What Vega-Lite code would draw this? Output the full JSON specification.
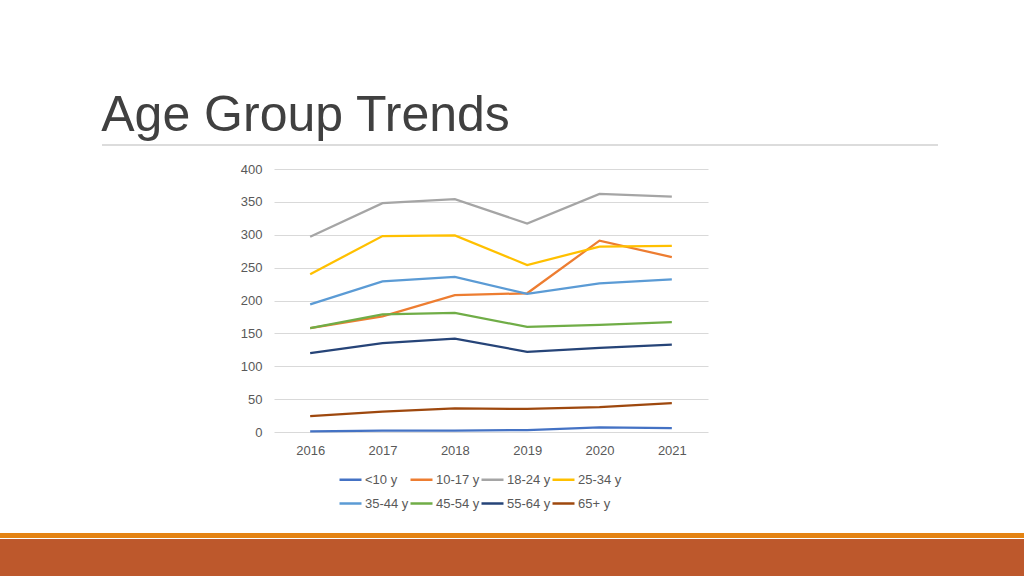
{
  "$schema": "https://vega.github.io/schema/vega-lite/v6.json",
  "background": "white",
  "padding": {"top": 91, "left": 0, "right": 0, "bottom": 0},
  "config": {
    "view": {"stroke": null},
    "concat": {"spacing": 0},
    "axis": {"labelFont": "Liberation Sans", "labelFontSize": 13, "labelColor": "#595959"},
    "legend": {"labelFont": "Liberation Sans", "labelFontSize": 13, "labelColor": "#595959", "layout": {"bottom": {"anchor": "middle"}}}
  },
  "spacing": 17,
  "vconcat": [
    {
      "spacing": 0,
      "hconcat": [
        {"width": 101, "height": 1, "data": {"values": []}, "mark": "point", "encoding": {}},
        {
          "width": 836,
          "height": 1,
          "title": {"text": "Age Group Trends", "anchor": "start", "fontSize": 50, "font": "Liberation Sans", "fontWeight": "normal", "color": "#404040", "offset": 3},
          "data": {"values": [{}]},
          "mark": {"type": "rule", "color": "#D0D0D0", "strokeWidth": 1.5},
          "encoding": {
            "x": {"datum": 0, "type": "quantitative", "scale": {"domain": [0, 1]}, "axis": null},
            "x2": {"datum": 1},
            "y": {"datum": 0, "type": "quantitative", "scale": {"domain": [0, 1]}, "axis": null}
          }
        }
      ]
    },
    {
      "spacing": 0,
      "resolve": {"scale": {"color": "independent"}, "legend": {"color": "independent"}},
      "hconcat": [
        {"width": 240, "height": 1, "data": {"values": []}, "mark": "point", "encoding": {}},
        {
          "width": 434,
          "height": 263,
          "data": {"values": [
            {"year": "2016", "group": "<10 y", "value": 1},
            {"year": "2017", "group": "<10 y", "value": 2},
            {"year": "2018", "group": "<10 y", "value": 2},
            {"year": "2019", "group": "<10 y", "value": 3},
            {"year": "2020", "group": "<10 y", "value": 7},
            {"year": "2021", "group": "<10 y", "value": 6},
            {"year": "2016", "group": "10-17 y", "value": 158},
            {"year": "2017", "group": "10-17 y", "value": 176},
            {"year": "2018", "group": "10-17 y", "value": 208},
            {"year": "2019", "group": "10-17 y", "value": 211},
            {"year": "2020", "group": "10-17 y", "value": 291},
            {"year": "2021", "group": "10-17 y", "value": 266},
            {"year": "2016", "group": "18-24 y", "value": 297},
            {"year": "2017", "group": "18-24 y", "value": 348},
            {"year": "2018", "group": "18-24 y", "value": 354},
            {"year": "2019", "group": "18-24 y", "value": 317},
            {"year": "2020", "group": "18-24 y", "value": 362},
            {"year": "2021", "group": "18-24 y", "value": 358},
            {"year": "2016", "group": "25-34 y", "value": 240},
            {"year": "2017", "group": "25-34 y", "value": 298},
            {"year": "2018", "group": "25-34 y", "value": 299},
            {"year": "2019", "group": "25-34 y", "value": 254},
            {"year": "2020", "group": "25-34 y", "value": 282},
            {"year": "2021", "group": "25-34 y", "value": 283},
            {"year": "2016", "group": "35-44 y", "value": 194},
            {"year": "2017", "group": "35-44 y", "value": 229},
            {"year": "2018", "group": "35-44 y", "value": 236},
            {"year": "2019", "group": "35-44 y", "value": 210},
            {"year": "2020", "group": "35-44 y", "value": 226},
            {"year": "2021", "group": "35-44 y", "value": 232},
            {"year": "2016", "group": "45-54 y", "value": 158},
            {"year": "2017", "group": "45-54 y", "value": 179},
            {"year": "2018", "group": "45-54 y", "value": 181},
            {"year": "2019", "group": "45-54 y", "value": 160},
            {"year": "2020", "group": "45-54 y", "value": 163},
            {"year": "2021", "group": "45-54 y", "value": 167},
            {"year": "2016", "group": "55-64 y", "value": 120},
            {"year": "2017", "group": "55-64 y", "value": 135},
            {"year": "2018", "group": "55-64 y", "value": 142},
            {"year": "2019", "group": "55-64 y", "value": 122},
            {"year": "2020", "group": "55-64 y", "value": 128},
            {"year": "2021", "group": "55-64 y", "value": 133},
            {"year": "2016", "group": "65+ y", "value": 24},
            {"year": "2017", "group": "65+ y", "value": 31},
            {"year": "2018", "group": "65+ y", "value": 36},
            {"year": "2019", "group": "65+ y", "value": 35},
            {"year": "2020", "group": "65+ y", "value": 38},
            {"year": "2021", "group": "65+ y", "value": 44}
          ]},
          "mark": {"type": "line", "strokeWidth": 2.25},
          "encoding": {
            "x": {"field": "year", "type": "ordinal", "scale": {"type": "point", "padding": 0.5},
                  "axis": {"title": null, "labelAngle": 0, "domain": false, "ticks": false, "grid": false, "labelPadding": 12}},
            "y": {"field": "value", "type": "quantitative", "scale": {"domain": [0, 400]},
                  "axis": {"title": null, "values": [0, 50, 100, 150, 200, 250, 300, 350, 400], "domain": false, "ticks": false, "labelPadding": 12, "gridColor": "#D9D9D9", "gridWidth": 1}},
            "color": {"field": "group", "type": "nominal",
                      "scale": {"domain": ["<10 y", "10-17 y", "18-24 y", "25-34 y", "35-44 y", "45-54 y", "55-64 y", "65+ y"],
                                "range": ["#4472C4", "#ED7D31", "#A5A5A5", "#FFC000", "#5B9BD5", "#70AD47", "#264478", "#9E480E"]},
                      "legend": {"title": " ", "titleOrient": "right", "titlePadding": 24, "titleOpacity": 0, "titleFontSize": 13, "orient": "bottom", "direction": "horizontal", "columns": 4, "symbolType": "stroke", "symbolSize": 484, "symbolStrokeWidth": 2.5, "labelOffset": 2, "columnPadding": -5, "rowPadding": 4, "offset": 5, "padding": 5}}
          }
        }
      ]
    },
    {
      "spacing": 1,
      "vconcat": [
        {"width": 1024, "height": 5, "view": {"fill": "#E48312"}, "data": {"values": []}, "mark": "point", "encoding": {}},
        {"width": 1024, "height": 38, "view": {"fill": "#BD582C"}, "data": {"values": []}, "mark": "point", "encoding": {}}
      ]
    }
  ]
}
